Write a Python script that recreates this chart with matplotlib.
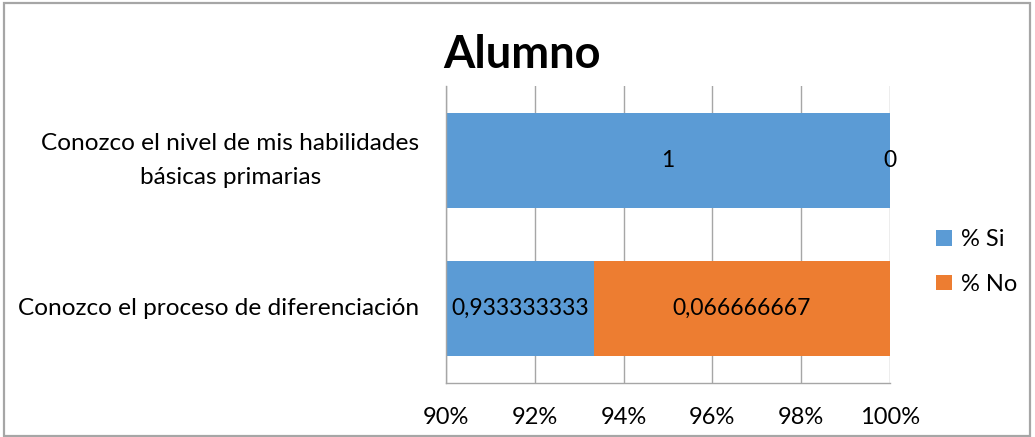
import matplotlib
matplotlib.use("Agg")
import matplotlib.pyplot as plt
from matplotlib.patches import Rectangle

plt.rcParams['font.family'] = ['Lato', 'DejaVu Sans']

title = "Alumno"
categories = ["Conozco el proceso de diferenciación",
              "Conozco el nivel de mis habilidades\nbásicas primarias"]
series_names = ["% Si", "% No"]
si_values = [0.933333333, 1]
no_values = [0.066666667, 0]
x_ticks = [0.90, 0.92, 0.94, 0.96, 0.98, 1.00]
x_min, x_max = 0.90, 1.00

colors = ["#5B9BD5", "#ED7D31"]
grid_color = "#A6A6A6"
fs = 17

W, H = 1035, 437
fig = plt.figure(figsize=(W / 100, H / 100), dpi=100)
fig.patches.append(Rectangle((4 / W, 1 / H), 1026 / W, 433 / H, transform=fig.transFigure,
                             fill=False, edgecolor="#A6A6A6", linewidth=1.6))

ax = fig.add_axes([446 / W, 1 - 383 / H, 444 / W, 297 / H])

def fmt(v):
    s = f"{v:.9f}".rstrip("0").rstrip(".")
    return s.replace(".", ",")

y = list(range(len(categories)))
lefts = [0.0] * len(categories)
for name, vals, col in zip(series_names, [si_values, no_values], colors):
    ax.barh(y, vals, left=lefts, height=0.64, color=col, label=name, zorder=2)
    for i, v in enumerate(vals):
        a, b = lefts[i], lefts[i] + v
        ca, cb = max(a, x_min), min(b, x_max)
        xc = (ca + cb) / 2 if cb >= ca else b
        ax.text(xc, y[i], fmt(v), ha="center", va="center", fontsize=16.5, color="black", zorder=3)
    lefts = [l + v for l, v in zip(lefts, vals)]

ax.set_xlim(x_min, x_max)
ax.set_ylim(-0.5, len(categories) - 0.5)
ax.set_xticks(x_ticks)
ax.set_xticklabels([f"{round(t * 100)}%" for t in x_ticks], fontsize=fs)
ax.set_yticks(y)
ax.set_yticklabels(categories, fontsize=17.6, ha="right", va="center",
                   multialignment="center", linespacing=1.75)
ax.tick_params(axis="y", length=0, pad=19)
ax.tick_params(axis="x", length=0, pad=17)
ax.grid(axis="x", color=grid_color, linewidth=1, zorder=0)
for side in ["top", "right"]:
    ax.spines[side].set_visible(False)
for side in ["left", "bottom"]:
    ax.spines[side].set_color(grid_color)
    ax.spines[side].set_linewidth(1)

fig.text(522 / W, 1 - 55 / H, title, ha="center", va="center", fontsize=32.5, fontweight="bold")

ax.legend(loc="center left", bbox_to_anchor=(915 / W, 1 - 262 / H), bbox_transform=fig.transFigure,
          frameon=False, fontsize=fs, handlelength=0.65, handleheight=0.65, handletextpad=0.4,
          labelspacing=1.0)

fig.savefig("out.png", dpi=100)
